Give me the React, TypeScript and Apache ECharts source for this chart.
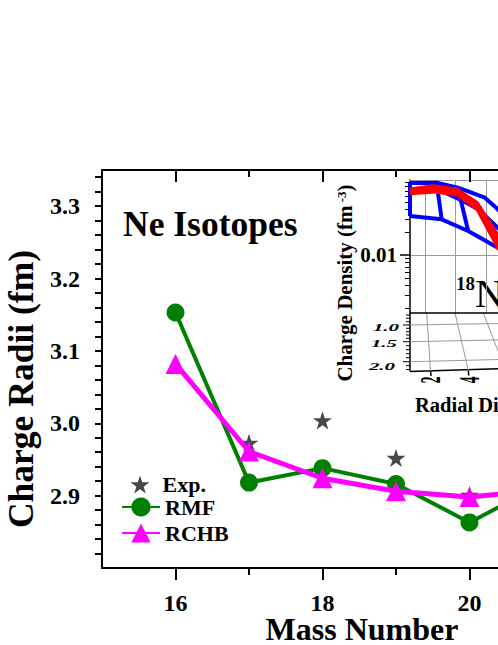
import React, { useEffect, useRef } from 'react';
import * as echarts from 'echarts';

const SERIF = '"Liberation Serif", "Times New Roman", serif';

// Main chart data (charge radii of Ne isotopes, fm)
const massNumbers = [16, 17, 18, 19, 20, 21];
const rmfRadii = [3.153, 2.918, 2.938, 2.916, 2.863, 2.916];
const rchbRadii = [3.082, 2.961, 2.924, 2.906, 2.898, 2.908];
const expMassNumbers = [17, 18, 19, 20];
const expRadii = [2.973, 3.004, 2.952, 2.901];

// Main axes ticks / labels
const xMajorTicks = [16, 18, 20, 22];
const xMinorTicks = [17, 19, 21];
const yLabelValues = [2.9, 3.0, 3.1, 3.2, 3.3];
const yTickValues = [
  2.82, 2.84, 2.86, 2.88, 2.9, 2.92, 2.94, 2.96, 2.98, 3.0, 3.02, 3.04, 3.06, 3.08,
  3.1, 3.12, 3.14, 3.16, 3.18, 3.2, 3.22, 3.24, 3.26, 3.28, 3.3, 3.32, 3.34,
];

// Inset (charge density of 18Ne, 3D mesh, back panel projection)
const insetGridR = [2, 4, 6, 8];
const insetMinorDensity = [
  0.002, 0.003, 0.004, 0.005, 0.006, 0.007, 0.008, 0.009,
  0.02, 0.03, 0.04, 0.05, 0.06, 0.07, 0.08, 0.09,
];
const blueLeftR = [1, 1];
const blueLeftRho = [0.0885, 0.0326];
const blueBottomR = [1, 3.08, 4.82, 6.77, 7.6];
const blueBottomRho = [0.0326, 0.0295, 0.0207, 0.0125, 0.0085];
const blueTopR = [1, 2.75, 4.15, 5.92, 6.77, 7.6];
const blueTopRho = [0.0885, 0.0893, 0.0769, 0.0568, 0.0399, 0.026];
const blueMidR = [2.77, 4.48, 5.46, 6.77, 7.6];
const blueMidRho = [0.0738, 0.0514, 0.0403, 0.0227, 0.015];
const blueCrossAR = [2.75, 3.08];
const blueCrossARho = [0.0893, 0.0295];
const blueCrossBR = [4.17, 4.82];
const blueCrossBRho = [0.0731, 0.0207];
const redUpperR = [1, 2.51, 4.06, 5.37, 6.77, 7.6];
const redUpperRho = [0.0716, 0.0793, 0.0716, 0.0479, 0.0174, 0.009];
const redLowerR = [1, 2.64, 4.17, 5.48, 6.77, 7.6];
const redLowerRho = [0.0661, 0.0695, 0.063, 0.0399, 0.0131, 0.007];

// Floor labels of the 3D inset
const floorDepthLabels = ['1.0', '1.5', '2.0'];
const floorRadialLabels = ['2', '4'];

const STAR =
  'path://M50,0L61.2,34.5L97.6,34.5L68.2,55.9L79.4,90.5L50,69.1L20.6,90.5L31.8,55.9L2.4,34.5L38.8,34.5Z';

const zip = (a: number[], b: number[]) => a.map((v, i) => [v, b[i]]);
const zipLog = (a: number[], b: number[]) => a.map((v, i) => [v, Math.log10(b[i])]);

export default function App() {
  const ref = useRef<HTMLDivElement>(null);

  useEffect(() => {
    if (!ref.current) return;
    const chart = echarts.init(ref.current, undefined, { renderer: 'svg' });

    const black = '#000';
    const gray = '#9a9a9a';
    const labelFont = { fontFamily: SERIF, fontWeight: 'bold' as const, color: black };

    const baseX = { type: 'value' as const, min: 15, max: 23, gridIndex: 0, splitLine: { show: false } };
    const tickLine = { color: black, width: 2 };

    const insetMin = -2.763;
    const insetMax = -1.013;

    const insetLines = [
      { r: blueLeftR, rho: blueLeftRho, color: '#0000FF', w: 4 },
      { r: blueBottomR, rho: blueBottomRho, color: '#0000FF', w: 4 },
      { r: blueTopR, rho: blueTopRho, color: '#0000FF', w: 4 },
      { r: blueMidR, rho: blueMidRho, color: '#0000FF', w: 4 },
      { r: blueCrossAR, rho: blueCrossARho, color: '#0000FF', w: 4 },
      { r: blueCrossBR, rho: blueCrossBRho, color: '#0000FF', w: 4 },
      { r: redUpperR, rho: redUpperRho, color: '#FF0000', w: 5 },
      { r: redLowerR, rho: redLowerRho, color: '#FF0000', w: 5 },
    ];

    // floor decoration
    const floorY: [number, number][] = [
      [0.7, 315], [0.8, 318.3], [0.9, 321.7], [1.0, 325], [1.1, 328.3], [1.2, 331.7],
      [1.3, 335], [1.4, 338.3], [1.5, 341.7], [1.6, 345.7], [1.7, 349.7], [1.8, 353.7],
      [1.9, 357.7], [2.0, 361.7], [2.1, 365.7], [2.2, 369.5],
    ];
    const floorTicks = floorY.map(([d, y]) => {
      const major = Math.abs(d - 1) < 1e-6 || Math.abs(d - 1.5) < 1e-6 || Math.abs(d - 2) < 1e-6;
      return {
        type: 'line',
        shape: { x1: major ? 403 : 406, y1: y, x2: 410, y2: y },
        style: { stroke: black, lineWidth: 1 },
      };
    });
    const floorLabelPos = [
      [386, 328],
      [384, 344],
      [382, 367],
    ];
    const radialLabelPos = [
      [430, 380],
      [469, 380],
    ];

    const graphics: any[] = [
      { type: 'line', shape: { x1: 410, y1: 313, x2: 410, y2: 371.5 }, style: { stroke: black, lineWidth: 1.5 } },
      { type: 'line', shape: { x1: 410, y1: 371.5, x2: 560, y2: 367 }, style: { stroke: black, lineWidth: 1.5 } },
      { type: 'line', shape: { x1: 410, y1: 325, x2: 560, y2: 322.5 }, style: { stroke: gray, lineWidth: 1 } },
      { type: 'line', shape: { x1: 410, y1: 341.7, x2: 560, y2: 338.7 }, style: { stroke: gray, lineWidth: 1 } },
      { type: 'line', shape: { x1: 410, y1: 361.7, x2: 560, y2: 358 }, style: { stroke: gray, lineWidth: 1 } },
      { type: 'line', shape: { x1: 426.7, y1: 313, x2: 430.5, y2: 371.3 }, style: { stroke: gray, lineWidth: 1 } },
      { type: 'line', shape: { x1: 455, y1: 313, x2: 468.3, y2: 370.5 }, style: { stroke: gray, lineWidth: 1 } },
      { type: 'line', shape: { x1: 483.3, y1: 313, x2: 505, y2: 369 }, style: { stroke: gray, lineWidth: 1 } },
      { type: 'line', shape: { x1: 430.5, y1: 371, x2: 431, y2: 376 }, style: { stroke: black, lineWidth: 1.5 } },
      { type: 'line', shape: { x1: 468.3, y1: 370.5, x2: 468.8, y2: 375.5 }, style: { stroke: black, lineWidth: 1.5 } },
      ...floorTicks,
      ...floorDepthLabels.map((t, i) => ({
        type: 'text',
        x: floorLabelPos[i][0],
        y: floorLabelPos[i][1],
        scaleY: 0.45,
        style: {
          text: t,
          fontFamily: SERIF,
          fontWeight: 'bold',
          fontStyle: 'italic',
          fontSize: 21,
          fill: black,
          align: 'center',
          verticalAlign: 'middle',
        },
      })),
      ...floorRadialLabels.map((t, i) => ({
        type: 'text',
        x: radialLabelPos[i][0],
        y: radialLabelPos[i][1],
        rotation: Math.PI / 2,
        scaleX: 0.45,
        style: {
          text: t,
          fontFamily: SERIF,
          fontWeight: 'bold',
          fontSize: 30,
          fill: black,
          align: 'center',
          verticalAlign: 'middle',
        },
      })),
      {
        type: 'text',
        x: 123,
        y: 223.5,
        style: { text: 'Ne Isotopes', fontFamily: SERIF, fontWeight: 'bold', fontSize: 35.5, fill: black, align: 'left', verticalAlign: 'middle' },
      },
      {
        type: 'text',
        x: 21,
        y: 389,
        rotation: Math.PI / 2,
        style: { text: 'Charge Radii (fm)', fontFamily: SERIF, fontWeight: 'bold', fontSize: 35.5, fill: black, align: 'center', verticalAlign: 'middle' },
      },
      {
        type: 'text',
        x: 362,
        y: 629,
        style: { text: 'Mass Number', fontFamily: SERIF, fontWeight: 'bold', fontSize: 32, fill: black, align: 'center', verticalAlign: 'middle' },
      },
      {
        type: 'text',
        x: 345,
        y: 283,
        rotation: Math.PI / 2,
        style: {
          text: '{a|Charge Density (fm}{s| -3}{a|)}',
          align: 'center',
          verticalAlign: 'middle',
          rich: {
            a: { fontFamily: SERIF, fontWeight: 'bold', fontSize: 21, fill: black, color: black },
            s: { fontFamily: SERIF, fontWeight: 'bold', fontSize: 13, fill: black, color: black, verticalAlign: 'top' },
          },
        },
      },
      {
        type: 'text',
        x: 456,
        y: 293.5,
        style: {
          text: '{s|18}{n|Ne}',
          align: 'left',
          verticalAlign: 'middle',
          rich: {
            s: { fontFamily: SERIF, fontWeight: 'bold', fontSize: 19, fill: black, color: black, verticalAlign: 'top' },
            n: { fontFamily: SERIF, fontWeight: 'normal', fontSize: 40, fill: black, color: black },
          },
        },
      },
      {
        type: 'text',
        x: 415,
        y: 404.6,
        style: { text: 'Radial Distance (fm)', fontFamily: SERIF, fontWeight: 'bold', fontSize: 20.5, fill: black, align: 'left', verticalAlign: 'middle' },
      },
    ];

    const option: any = {
      animation: false,
      backgroundColor: '#fff',
      grid: [
        { left: 102, top: 170, width: 588, height: 398, containLabel: false },
        { left: 410, top: 180, width: 137, height: 133, containLabel: false },
      ],
      legend: [
        {
          data: ['Exp.'],
          left: 130.5,
          top: 473.5,
          padding: 0,
          itemWidth: 19,
          itemHeight: 19,
          textStyle: { ...labelFont, fontSize: 22, padding: [0, 0, 0, 8] },
        },
        {
          data: ['RMF', 'RCHB'],
          orient: 'vertical',
          left: 121,
          top: 496,
          padding: 0,
          itemWidth: 38,
          itemHeight: 24,
          itemGap: 4,
          textStyle: { ...labelFont, fontSize: 22 },
        },
      ],
      xAxis: [
        {
          ...baseX,
          position: 'bottom',
          axisLine: { show: true, lineStyle: tickLine },
          axisTick: { show: true, customValues: xMajorTicks, length: 12, lineStyle: tickLine },
          axisLabel: { customValues: xMajorTicks, margin: 23, fontSize: 24, ...labelFont },
        },
        {
          ...baseX,
          position: 'bottom',
          axisLine: { show: false },
          axisTick: { show: true, customValues: xMinorTicks, length: 7, lineStyle: tickLine },
          axisLabel: { show: false },
        },
        {
          ...baseX,
          position: 'top',
          axisLine: { show: true, lineStyle: tickLine },
          axisTick: { show: true, inside: true, customValues: xMajorTicks, length: 12, lineStyle: tickLine },
          axisLabel: { show: false },
        },
        {
          ...baseX,
          position: 'top',
          axisLine: { show: false },
          axisTick: { show: true, inside: true, customValues: xMinorTicks, length: 7, lineStyle: tickLine },
          axisLabel: { show: false },
        },
        {
          type: 'value',
          gridIndex: 1,
          min: 1,
          max: 10,
          position: 'bottom',
          axisLine: { show: true, lineStyle: { color: black, width: 1.5 } },
          axisTick: { show: false, customValues: insetGridR },
          axisLabel: { show: false },
          splitLine: { show: true, lineStyle: { color: gray, width: 1 } },
        },
        {
          type: 'value',
          gridIndex: 1,
          min: 1,
          max: 10,
          position: 'top',
          axisLine: { show: true, lineStyle: { color: gray, width: 1 } },
          axisTick: { show: false },
          axisLabel: { show: false },
          splitLine: { show: false },
        },
      ],
      yAxis: [
        {
          type: 'value',
          gridIndex: 0,
          min: 2.8,
          max: 3.35,
          position: 'left',
          axisLine: { show: true, lineStyle: tickLine },
          axisTick: { show: true, customValues: yTickValues, length: 7, lineStyle: tickLine },
          axisLabel: {
            customValues: yLabelValues,
            formatter: (v: number) => v.toFixed(1),
            margin: 22,
            fontSize: 24,
            ...labelFont,
          },
          splitLine: { show: false },
        },
        {
          type: 'value',
          gridIndex: 1,
          min: insetMin,
          max: insetMax,
          position: 'left',
          axisLine: { show: true, lineStyle: { color: black, width: 1.5 } },
          axisTick: { show: true, customValues: [-2], length: 10, lineStyle: { color: black, width: 1.5 } },
          axisLabel: {
            customValues: [-2],
            formatter: (v: number) => Math.pow(10, v).toFixed(2),
            margin: 13,
            fontSize: 21,
            ...labelFont,
          },
          splitLine: { show: true, lineStyle: { color: gray, width: 1 } },
        },
        {
          type: 'value',
          gridIndex: 1,
          min: insetMin,
          max: insetMax,
          position: 'left',
          axisLine: { show: false },
          axisTick: {
            show: true,
            customValues: insetMinorDensity.map((d) => Math.log10(d)),
            length: 5,
            lineStyle: { color: black, width: 1 },
          },
          axisLabel: { show: false },
          splitLine: { show: false },
        },
      ],
      series: [
        ...insetLines.map((l, i) => ({
          name: 'inset' + i,
          type: 'line',
          xAxisIndex: 4,
          yAxisIndex: 1,
          data: zipLog(l.r, l.rho),
          symbol: 'none',
          silent: true,
          lineStyle: { color: l.color, width: l.w },
          itemStyle: { color: l.color },
          z: 1,
        })),
        {
          name: 'Exp.',
          type: 'scatter',
          xAxisIndex: 0,
          yAxisIndex: 0,
          data: zip(expMassNumbers, expRadii),
          symbol: STAR,
          symbolSize: 19,
          symbolKeepAspect: true,
          itemStyle: { color: '#484848', opacity: 1 },
          z: 2,
        },
        {
          name: 'RMF',
          type: 'line',
          xAxisIndex: 0,
          yAxisIndex: 0,
          data: zip(massNumbers, rmfRadii),
          symbol: 'circle',
          symbolSize: 18,
          lineStyle: { color: '#008000', width: 4 },
          itemStyle: { color: '#008000' },
          z: 3,
        },
        {
          name: 'RCHB',
          type: 'line',
          xAxisIndex: 0,
          yAxisIndex: 0,
          data: zip(massNumbers, rchbRadii),
          symbol: 'triangle',
          symbolSize: 20,
          lineStyle: { color: '#FF00FF', width: 5 },
          itemStyle: { color: '#FF00FF' },
          z: 4,
        },
      ],
      graphic: { elements: graphics },
    };

    chart.setOption(option);
    return () => chart.dispose();
  }, []);

  return (
    <div
      style={{ position: 'absolute', left: 0, top: 0, width: 498, height: 645, overflow: 'hidden', background: '#fff' }}
    >
      <div ref={ref} style={{ width: 800, height: 645 }} />
    </div>
  );
}
